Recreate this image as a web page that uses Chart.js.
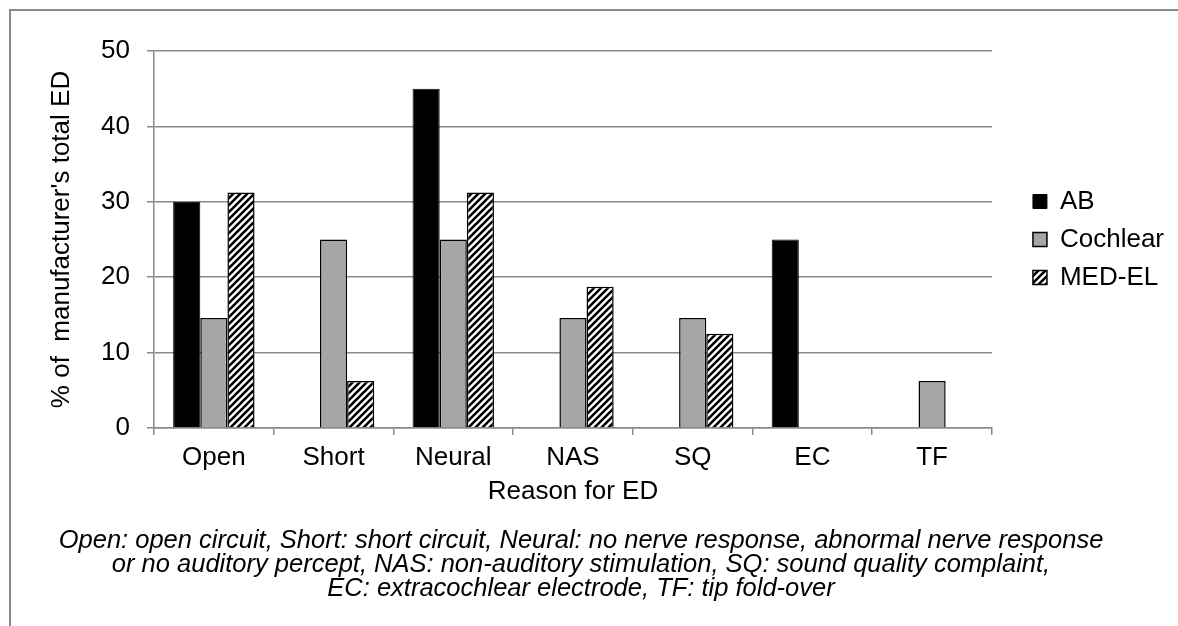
<!DOCTYPE html>
<html>
<head>
<meta charset="utf-8">
<script src="https://cdn.jsdelivr.net/npm/chart.js@4.4.0/dist/chart.umd.min.js"></script>
<style>
    html, body { margin: 0; padding: 0; background: #fff; }
    #wrap { width: 1178px; height: 626px; }
</style>
</head>
<body>
<div id="wrap"><canvas id="edChart" width="1178" height="626"></canvas></div>
<script>
const reasons = ['Open', 'Short', 'Neural', 'NAS', 'SQ', 'EC', 'TF'];
const abValues = [30, 0, 45, 0, 0, 25, 0];
const cochlearValues = [14.58, 25, 25, 14.58, 14.58, 0, 6.25];
const medelValues = [31.25, 6.25, 31.25, 18.75, 12.5, 0, 0];
const yTicks = [0, 10, 20, 30, 40, 50];
const captionLines = [
    'Open: open circuit, Short: short circuit, Neural: no nerve response, abnormal nerve response',
    'or no auditory percept, NAS: non-auditory stimulation, SQ: sound quality complaint,',
    'EC: extracochlear electrode, TF: tip fold-over'
];

const FONT = 'Liberation Sans, Arial, sans-serif';
const GREY = '#8a8a8a';

// diagonal hatch like Excel's "wide upward diagonal"
function makeHatch() {
    const s = 7;
    const c = document.createElement('canvas');
    c.width = s; c.height = s;
    const g = c.getContext('2d');
    g.fillStyle = '#fff';
    g.fillRect(0, 0, s, s);
    g.strokeStyle = '#000';
    g.lineWidth = 2.6;
    g.beginPath();
    g.moveTo(-1, s + 1); g.lineTo(s + 1, -1);
    g.moveTo(-2, 2); g.lineTo(2, -2);
    g.moveTo(s - 2, s + 2); g.lineTo(s + 2, s - 2);
    g.stroke();
    return g.createPattern(c, 'repeat');
}

// outer frame and caption text
const framePlugin = {
    id: 'frame',
    afterDraw(chart) {
        const ctx = chart.ctx;
        ctx.save();
        ctx.strokeStyle = GREY;
        ctx.lineWidth = 2;
        ctx.beginPath();
        ctx.moveTo(10, 626);
        ctx.lineTo(10, 10);
        ctx.lineTo(1178, 10);
        ctx.stroke();

        ctx.fillStyle = '#000';
        ctx.font = 'italic 25.5px ' + FONT;
        ctx.textAlign = 'center';
        ctx.textBaseline = 'middle';
        captionLines.forEach((line, i) => {
            ctx.fillText(line, 581, 541 + i * 24);
        });
        ctx.restore();
    }
};

const ctx = document.getElementById('edChart').getContext('2d');

const edChart = new Chart(ctx, {
    type: 'bar',
    data: {
        labels: reasons,
        datasets: [{
            label: 'AB',
            data: abValues,
            backgroundColor: '#000000',
            borderColor: '#000000',
            borderWidth: 1
        }, {
            label: 'Cochlear',
            data: cochlearValues,
            backgroundColor: '#a6a6a6',
            borderColor: '#000000',
            borderWidth: 1.5
        }, {
            label: 'MED-EL',
            data: medelValues,
            backgroundColor: makeHatch(),
            borderColor: '#000000',
            borderWidth: 1.5
        }]
    },
    options: {
        responsive: false,
        animation: false,
        devicePixelRatio: 1,
        datasets: {
            bar: {
                barPercentage: 1,
                categoryPercentage: 0.68
            }
        },
        layout: {
            padding: { top: 51, left: 0, right: 4, bottom: 118 }
        },
        scales: {
            x: {
                grid: {
                    offset: true,
                    drawOnChartArea: false,
                    drawTicks: true,
                    tickLength: 7,
                    color: GREY,
                    lineWidth: 1.5
                },
                border: { color: GREY, width: 1.5 },
                ticks: {
                    color: '#000',
                    padding: 7,
                    font: { family: FONT, size: 26 }
                },
                title: {
                    display: true,
                    text: 'Reason for ED',
                    color: '#000',
                    padding: { top: 0, bottom: 1 },
                    font: { family: FONT, size: 26 }
                },
                afterFit(scale) { scale.height = 80; }
            },
            y: {
                min: 0,
                max: 50,
                afterBuildTicks(scale) {
                    scale.ticks = yTicks.map(v => ({ value: v }));
                },
                grid: {
                    color: GREY,
                    lineWidth: 1.5,
                    tickLength: 7
                },
                border: { color: GREY, width: 1.5 },
                ticks: {
                    color: '#000',
                    padding: 17,
                    font: { family: FONT, size: 26 }
                },
                title: {
                    display: true,
                    text: "% of  manufacturer's total ED",
                    color: '#000',
                    padding: { top: 46, bottom: 0 },
                    font: { family: FONT, size: 26 }
                },
                afterFit(scale) { scale.width = 154; }
            },
            // empty spacer between plot and legend
            gap: {
                type: 'linear',
                position: 'right',
                display: true,
                grid: { display: false },
                border: { display: false },
                ticks: { display: false },
                afterFit(scale) { scale.width = 29; }
            }
        },
        plugins: {
            legend: {
                position: 'right',
                fullSize: false,
                labels: {
                    boxWidth: 14,
                    boxHeight: 14,
                    padding: 12,
                    color: '#000',
                    font: { family: FONT, size: 26 }
                }
            },
            tooltip: { enabled: false }
        }
    },
    plugins: [framePlugin]
});
</script>
</body>
</html>
